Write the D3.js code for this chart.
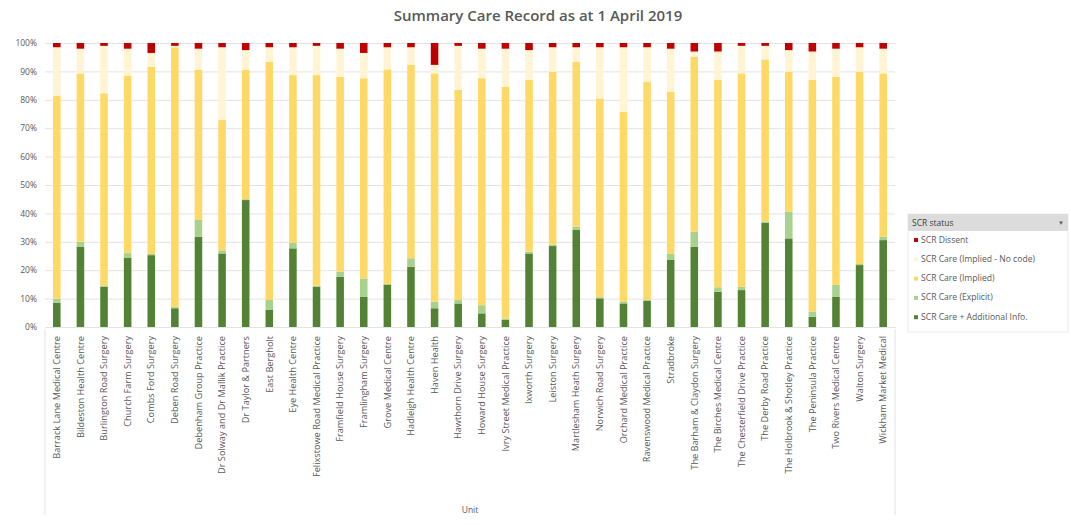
<!DOCTYPE html>
<html>
<head>
<meta charset="utf-8">
<script src="https://cdn.jsdelivr.net/npm/d3@7"></script>
<style>
  body { margin: 0; background: #fff; }
  text { font-family: "Open Sans", "Liberation Sans", sans-serif; }
</style>
</head>
<body>
<div id="chart"></div>
<script>
// practices, left to right
const units = [
  "Barrack Lane Medical Centre", "Bildeston Health Centre", "Burlington Road Surgery",
  "Church Farm Surgery", "Combs Ford Surgery", "Deben Road Surgery",
  "Debenham Group Practice", "Dr Solway and Dr Mallik Practice", "Dr Taylor & Partners",
  "East Bergholt", "Eye Health Centre", "Felixstowe Road Medical Practice",
  "Framfield House Surgery", "Framlingham Surgery", "Grove Medical Centre",
  "Hadleigh Health Centre", "Haven Health", "Hawthorn Drive Surgery",
  "Howard House Surgery", "Ivry Street Medical Practice", "Ixworth Surgery",
  "Leiston Surgery", "Martlesham Heath Surgery", "Norwich Road Surgery",
  "Orchard Medical Practice", "Ravenswood Medical Practice", "Stradbroke",
  "The Barham & Claydon Surgery", "The Birches Medical Centre", "The Chesterfield Drive Practice",
  "The Derby Road Practice", "The Holbrook & Shotley Practice", "The Peninsula Practice",
  "Two Rivers Medical Centre", "Walton Surgery", "Wickham Market Medical"
];

// percentages per SCR status (bottom of stack first)
const additionalInfo = [8.5, 28.3, 14.2, 24.3, 25.3, 6.6, 31.8, 25.9, 44.7, 6.0, 27.7, 14.2,
  17.7, 10.7, 14.8, 21.2, 6.6, 8.3, 4.8, 2.5, 25.9, 28.5, 34.2, 10.1,
  8.3, 9.3, 23.6, 28.3, 12.4, 13.0, 36.7, 31.2, 3.6, 10.7, 21.8, 30.6];
const explicit = [1.5, 1.7, 0.3, 1.7, 0.4, 0.4, 5.9, 1.1, 0.3, 3.5, 1.9, 0.3,
  1.8, 6.4, 0.4, 3.0, 2.3, 1.2, 2.9, 0.5, 0.6, 0.5, 1.1, 0.4,
  0.7, 0.3, 2.1, 5.3, 1.6, 1.2, 0.5, 9.4, 1.8, 4.1, 0.4, 1.2];
const implied = [71.5, 59.3, 67.8, 62.4, 65.9, 91.5, 52.8, 45.9, 45.5, 83.9, 59.1, 74.2,
  68.6, 70.5, 75.5, 68.1, 80.4, 74.0, 79.9, 81.6, 60.5, 60.9, 58.1, 70.0,
  66.8, 76.8, 57.2, 61.6, 73.0, 75.1, 57.0, 49.3, 81.6, 73.3, 67.7, 57.5];
const impliedNoCode = [17.0, 8.7, 16.7, 9.6, 4.9, 0.5, 7.5, 25.6, 7.0, 5.1, 9.8, 10.3,
  9.9, 8.9, 7.8, 6.2, 3.0, 15.5, 10.4, 13.4, 10.5, 8.6, 5.1, 18.0,
  22.7, 12.1, 15.1, 1.8, 10.0, 9.7, 4.8, 7.6, 10.0, 9.9, 8.6, 8.7];
const dissent = [1.5, 2.0, 1.0, 2.0, 3.5, 1.0, 2.0, 1.5, 2.5, 1.5, 1.5, 1.0,
  2.0, 3.5, 1.5, 1.5, 7.7, 1.0, 2.0, 2.0, 2.5, 1.5, 1.5, 1.5,
  1.5, 1.5, 2.0, 3.0, 3.0, 1.0, 1.0, 2.5, 3.0, 2.0, 1.5, 2.0];

const seriesNames = ["SCR Care + Additional Info.", "SCR Care (Explicit)", "SCR Care (Implied)",
  "SCR Care (Implied - No code)", "SCR Dissent"];
const seriesValues = [additionalInfo, explicit, implied, impliedNoCode, dissent];
const seriesColors = ["#548235", "#a9d18e", "#ffd966", "#fff4d4", "#c00000"];
const yTicks = [0, 10, 20, 30, 40, 50, 60, 70, 80, 90, 100];

const width = 1071, height = 525;
const plot = {left: 45, right: 895, top: 43, bottom: 327};

const rows = units.map(function(u, i) {
  const r = {unit: u};
  seriesNames.forEach(function(s, j) { r[s] = seriesValues[j][i]; });
  return r;
});
const stacked = d3.stack().keys(seriesNames)(rows);

const svg = d3.select("#chart").append("svg")
  .attr("width", width)
  .attr("height", height);

const x = d3.scaleBand().domain(units)
  .range([plot.left, plot.right])
  .paddingInner(0.68).paddingOuter(0.34);
const y = d3.scaleLinear().domain([0, 100]).range([plot.bottom, plot.top]);

// title
svg.append("text")
  .attr("x", 538).attr("y", 21)
  .attr("text-anchor", "middle")
  .style("font-size", "15px").style("font-weight", 600)
  .attr("fill", "#595959")
  .text("Summary Care Record  as at 1 April 2019");

// gridlines + y labels
const yAxis = svg.append("g")
  .attr("transform", "translate(" + plot.left + ",0)")
  .call(d3.axisLeft(y).tickValues(yTicks)
    .tickSize(-(plot.right - plot.left))
    .tickFormat(function(d) { return d + "%"; }));
yAxis.select(".domain").remove();
yAxis.selectAll(".tick line").attr("stroke", "#e3e3e3");
yAxis.selectAll(".tick text")
  .attr("x", -8).attr("fill", "#595959")
  .style("font-size", "8.5px");

// bars
svg.append("g").selectAll("g")
  .data(stacked)
  .enter().append("g")
  .attr("fill", function(d, i) { return seriesColors[i]; })
  .selectAll("rect")
  .data(function(d) { return d; })
  .enter().append("rect")
  .attr("x", function(d) { return x(d.data.unit); })
  .attr("width", x.bandwidth())
  .attr("y", function(d) { return y(d[1]); })
  .attr("height", function(d) { return y(d[0]) - y(d[1]); });

// category axis
const xAxis = svg.append("g")
  .attr("transform", "translate(0," + plot.bottom + ")")
  .call(d3.axisBottom(x).tickSize(0));
xAxis.select(".domain").attr("stroke", "#e3e3e3");
xAxis.selectAll(".tick text")
  .attr("transform", "rotate(-90)")
  .attr("x", -9).attr("y", 0).attr("dy", "0.35em")
  .attr("text-anchor", "end")
  .attr("fill", "#595959")
  .style("font-size", "9.2px");

// frame lines of the label area, like the pivot chart
[plot.left, plot.right].forEach(function(px) {
  svg.append("line")
    .attr("x1", px).attr("x2", px)
    .attr("y1", plot.bottom + 2).attr("y2", 515)
    .attr("stroke", "#e3e3e3");
});

svg.append("text")
  .attr("x", 470).attr("y", 513)
  .attr("text-anchor", "middle")
  .attr("fill", "#595959")
  .style("font-size", "8.5px")
  .text("Unit");

// legend
const lg = svg.append("g").attr("transform", "translate(908,214)");
lg.append("rect")
  .attr("width", 160).attr("height", 118)
  .attr("fill", "#fff").attr("stroke", "#ececec");
lg.append("rect")
  .attr("width", 160).attr("height", 17)
  .attr("fill", "#dcdcdc");
lg.append("text")
  .attr("x", 4).attr("y", 12)
  .attr("fill", "#404040")
  .style("font-size", "8.5px")
  .text("SCR status");
lg.append("text")
  .attr("x", 150).attr("y", 11)
  .attr("fill", "#595959")
  .style("font-size", "6px")
  .text("▼");

const legendOrder = [4, 3, 2, 1, 0];
const items = lg.selectAll(".item")
  .data(legendOrder)
  .enter().append("g")
  .attr("class", "item")
  .attr("transform", function(d, i) { return "translate(6," + (27 + i * 19.3) + ")"; });
items.append("rect")
  .attr("width", 4).attr("height", 4).attr("y", -3)
  .attr("fill", function(d) { return seriesColors[d]; });
items.append("text")
  .attr("x", 7).attr("y", 1.5)
  .attr("fill", "#595959")
  .style("font-size", "8.6px")
  .text(function(d) { return seriesNames[d]; });
</script>
</body>
</html>
